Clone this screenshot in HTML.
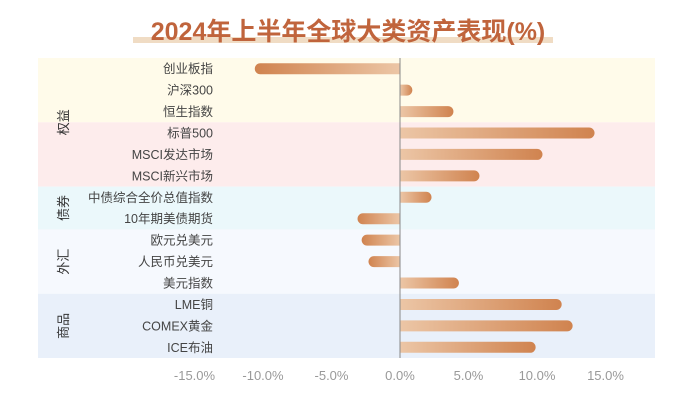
<!DOCTYPE html>
<html><head><meta charset="utf-8">
<style>
html,body{margin:0;padding:0;background:#fff;}
svg{display:block;font-family:"Liberation Sans","Noto Sans CJK SC",sans-serif;}
</style></head>
<body>
<svg id="chart" width="700" height="402" viewBox="0 0 700 402">
<defs>
<linearGradient id="gpos" x1="0" x2="1" y1="0" y2="0"><stop offset="0" stop-color="#ecc6a6"/><stop offset="1" stop-color="#d0834f"/></linearGradient>
<linearGradient id="gneg" x1="1" x2="0" y1="0" y2="0"><stop offset="0" stop-color="#ecc6a6"/><stop offset="1" stop-color="#d0834f"/></linearGradient>
</defs>
<rect x="133" y="37" width="420" height="6" fill="#f0dcc4"/>
<text x="348" y="40" text-anchor="middle" font-size="25" font-weight="bold" fill="#c0643c">2024年上半年全球大类资产表现(%)</text>
<g id="bands"></g>
<g id="bars"></g>
<g id="labels"></g>
<line x1="400" y1="58" x2="400" y2="358" stroke="#888" stroke-width="1"/>
<g id="ticks"></g>
</svg>
<script>
const categories = ["创业板指","沪深300","恒生指数","标普500","MSCI发达市场","MSCI新兴市场","中债综合全价总值指数","10年期美债期货","欧元兑美元","人民币兑美元","美元指数","LME铜","COMEX黄金","ICE布油"];
const values = [-10.6,0.9,3.9,14.2,10.4,5.8,2.3,-3.1,-2.8,-2.3,4.3,11.8,12.6,9.9];
const tickValues = [-15,-10,-5,0,5,10,15];
const tickLabels = ["-15.0%","-10.0%","-5.0%","0.0%","5.0%","10.0%","15.0%"];
const groupNames = ["权益","债券","外汇","商品"];
const groupSpans = [[0,5],[6,7],[8,10],[11,13]];
const bandColors = ["#fffbea","#fdecec","#ebf8fb","#f6f9fe","#e9f0fa"];
const bandSpans = [[0,2],[3,5],[6,7],[8,10],[11,13]];

const NS="http://www.w3.org/2000/svg";
const x0=400, pxPer=13.7, topY=58, rowH=21.43;
const xs=v=>x0+v*pxPer;
const yc=i=>topY+rowH*(i+0.5);
function mk(t,a,p){const e=document.createElementNS(NS,t);for(const k in a)e.setAttribute(k,a[k]);document.getElementById(p).appendChild(e);return e;}

bandSpans.forEach((s,i)=>{
  const r=mk("rect",{x:38,y:topY+s[0]*rowH,width:617,height:(s[1]-s[0]+1)*rowH,fill:bandColors[i]},"bands");
  
  
});
groupNames.forEach((g,i)=>{
  const s=groupSpans[i];const cy=(topY+s[0]*rowH+topY+(s[1]+1)*rowH)/2;
  const t=mk("text",{x:0,y:0,transform:`translate(68,${cy}) rotate(-90)`,"text-anchor":"middle","font-size":13,fill:"#333"},"labels");
  t.textContent=g;
  
  
});
categories.forEach((c,i)=>{
  const t=mk("text",{x:213,y:yc(i)+4.5,"text-anchor":"end","font-size":12.5,fill:"#444"},"labels");
  t.textContent=c;
  
  
  const v=values[i],h=11,y=yc(i)-h/2,xe=xs(v);
  const w=Math.abs(xe-x0);const r=Math.min(h/2,w/2);
  let d;
  if(v>=0) d=`M${x0},${y}H${xe-r}A${r},${r} 0 0 1 ${xe-r},${y+h}H${x0}Z`;
  else d=`M${x0},${y}H${xe+r}A${r},${r} 0 0 0 ${xe+r},${y+h}H${x0}Z`;
  const b=mk("path",{d:d,fill:v>=0?"url(#gpos)":"url(#gneg)"},"bars");
  
  
});
tickValues.forEach((v,i)=>{
  const t=mk("text",{x:xs(v),y:380,"text-anchor":"middle","font-size":13,fill:"#999"},"ticks");
  t.textContent=tickLabels[i];
  
  
});
</script>
</body></html>
